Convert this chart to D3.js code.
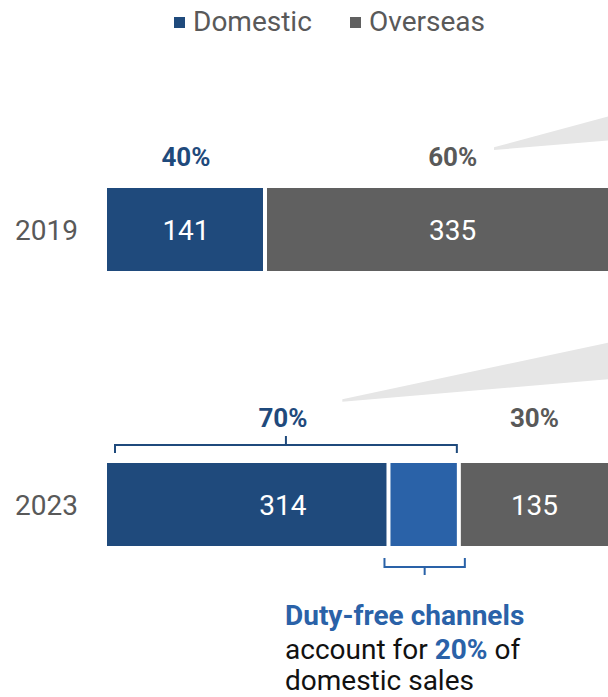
<!DOCTYPE html>
<html>
<head>
<meta charset="utf-8">
<script src="https://cdn.jsdelivr.net/npm/d3@7"></script>
<style>
  html, body { margin: 0; padding: 0; background: #fff; }
  svg { display: block; font-family: Roboto, "Noto Sans", sans-serif; }
</style>
</head>
<body>
<svg id="chart" width="608" height="697"></svg>
<script>
// Sales split by channel (values in the same unit as the labels)
const years = ["2019", "2023"];
const domestic = [141, 314];
const overseas = [335, 135];
const domesticShare = [40, 70];
const overseasShare = [60, 30];
const dutyFreeShareOfDomestic2023 = 20; // percent of 2023 domestic sales
const legendLabels = ["Domestic", "Overseas"];

const colors = {
  domestic: "#1f4a7c",
  dutyFree: "#2a62a8",
  overseas: "#606060",
  text: "#595959",
  callout: "#e6e6e6"
};

const svg = d3.select("#chart");
const W = 608;

const x = d3.scaleLinear().domain([0, 448]).range([107, 609]);
const y = d3.scalePoint().domain(years).range([188, 463]);
const bh = 83;
const GAP = 2;
const FS = 28;

// Callout wedges leading from the share labels to the right-hand panel
const callouts = [
  { tip: [494, 147.3, 150], right: [W, 116.5, 140.5] },
  { tip: [342.3, 399.3, 401.7], right: [W, 342.7, 379.3] }
];
svg.append("g").selectAll("path").data(callouts).join("path")
  .attr("d", c => `M${c.tip[0]},${c.tip[1]}L${c.right[0]},${c.right[1]}L${c.right[0]},${c.right[2]}L${c.tip[0]},${c.tip[2]}Z`)
  .attr("fill", colors.callout);

// Legend
const legend = svg.append("g");
const legendItems = [
  { label: legendLabels[0], color: colors.domestic, sx: 174, tx: 193 },
  { label: legendLabels[1], color: colors.overseas, sx: 350, tx: 369 }
];
legend.selectAll("rect").data(legendItems).join("rect")
  .attr("x", d => d.sx).attr("y", 17).attr("width", 11).attr("height", 11)
  .attr("fill", d => d.color);
legend.selectAll("text").data(legendItems).join("text")
  .attr("x", d => d.tx).attr("y", 31)
  .attr("font-size", FS).attr("fill", colors.text)
  .text(d => d.label);

// Build the segments for each year
const rows = years.map((yr, i) => {
  const segs = [];
  const split = yr === "2023";
  if (split) {
    const dutyFree = domestic[i] * dutyFreeShareOfDomestic2023 / 100;
    segs.push({ s: 0, e: domestic[i] - dutyFree, color: colors.domestic });
    segs.push({ s: domestic[i] - dutyFree, e: domestic[i], color: colors.dutyFree, dutyFree: true });
  } else {
    segs.push({ s: 0, e: domestic[i], color: colors.domestic });
  }
  segs.push({ s: domestic[i], e: domestic[i] + overseas[i], color: colors.overseas });
  return { year: yr, i, segs, bracket: split };
});

const rowG = svg.append("g").selectAll("g").data(rows).join("g")
  .attr("transform", d => `translate(0,${y(d.year)})`);

rowG.selectAll("rect").data(d => d.segs).join("rect")
  .attr("x", d => x(d.s) + (d.s > 0 ? GAP : 0))
  .attr("width", d => x(d.e) - x(d.s) - GAP - (d.s > 0 ? GAP : 0))
  .attr("y", 0).attr("height", bh)
  .attr("fill", d => d.color);

const midY = bh / 2 + 10;

// Year labels
rowG.append("text")
  .attr("x", 78).attr("y", midY)
  .attr("text-anchor", "end").attr("font-size", FS).attr("fill", colors.text)
  .text(d => d.year);

// Value labels (domestic total, overseas)
rowG.append("text")
  .attr("x", d => (x(0) + x(domestic[d.i])) / 2).attr("y", midY)
  .attr("text-anchor", "middle").attr("font-size", FS).attr("fill", "#fff")
  .text(d => domestic[d.i]);
rowG.append("text")
  .attr("x", d => (x(domestic[d.i]) + x(domestic[d.i] + overseas[d.i])) / 2).attr("y", midY)
  .attr("text-anchor", "middle").attr("font-size", FS).attr("fill", "#fff")
  .text(d => overseas[d.i]);

// Share labels above the bars (raised where a bracket sits above the bar)
const shareY = d => d.bracket ? -36 : -22;
rowG.append("text")
  .attr("x", d => (x(0) + x(domestic[d.i])) / 2).attr("y", shareY)
  .attr("text-anchor", "middle").attr("font-size", 26).attr("font-weight", 700)
  .attr("fill", colors.domestic)
  .text(d => domesticShare[d.i] + "%");
rowG.append("text")
  .attr("x", d => (x(domestic[d.i]) + x(domestic[d.i] + overseas[d.i])) / 2).attr("y", shareY)
  .attr("text-anchor", "middle").attr("font-size", 26).attr("font-weight", 700)
  .attr("fill", colors.text)
  .text(d => overseasShare[d.i] + "%");

// Brackets for 2023
const r23 = rows[1];
const y23 = y("2023");
const domEnd = x(domestic[1]);
const topBr = { x0: x(0) + 8, x1: domEnd - 2, y: y23 - 18, end: y23 - 10, tick: y23 - 27 };
const topMid = (topBr.x0 + topBr.x1) / 2;
svg.append("path")
  .attr("d", `M${topBr.x0},${topBr.end}V${topBr.y}H${topBr.x1}V${topBr.end}M${topMid},${topBr.y}V${topBr.tick}`)
  .attr("fill", "none").attr("stroke", colors.domestic).attr("stroke-width", 2);

const df = r23.segs.find(s => s.dutyFree);
const botBr = { x0: x(df.s) - 4, x1: x(df.e) + 6, y: y23 + bh + 21, end: y23 + bh + 12, tick: y23 + bh + 29 };
const botMid = (botBr.x0 + botBr.x1) / 2;
svg.append("path")
  .attr("d", `M${botBr.x0},${botBr.end}V${botBr.y}H${botBr.x1}V${botBr.end}M${botMid},${botBr.y}V${botBr.tick}`)
  .attr("fill", "none").attr("stroke", colors.dutyFree).attr("stroke-width", 2);

// Annotation text
const note = svg.append("g").attr("font-size", FS).attr("fill", "#111");
note.append("text").attr("x", 285).attr("y", 625)
  .attr("font-weight", 700).attr("fill", colors.dutyFree)
  .text("Duty-free channels");
const l2 = note.append("text").attr("x", 285).attr("y", 659);
l2.append("tspan").text("account for ");
l2.append("tspan").attr("font-weight", 700).attr("fill", colors.dutyFree).text(dutyFreeShareOfDomestic2023 + "%");
l2.append("tspan").text(" of");
note.append("text").attr("x", 285).attr("y", 690).text("domestic sales");
</script>
</body>
</html>
